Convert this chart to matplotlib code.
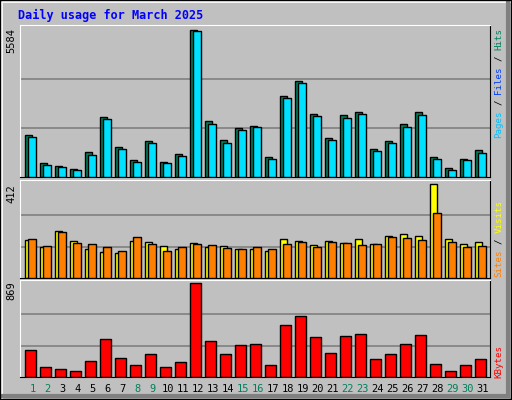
import matplotlib
matplotlib.use("Agg")
import matplotlib.pyplot as plt
from matplotlib.patches import Rectangle

days = list(range(1, 32))
hits = [1600,530,420,300,950,2280,1140,650,1370,570,870,5584,2130,1410,1860,1940,760,3080,3650,2390,1480,2360,2470,1060,1370,2010,2470,760,340,680,1030]
files = [1520,460,380,270,840,2200,1060,570,1290,530,800,5550,2010,1290,1790,1900,680,3000,3570,2320,1410,2240,2390,990,1290,1900,2360,680,270,650,910]
sites = [167,137,207,162,126,113,109,162,158,140,126,153,137,140,126,126,117,171,162,144,162,153,171,149,184,193,184,412,171,149,158]
visits = [171,140,202,153,149,135,117,180,149,117,135,149,144,131,126,135,126,149,158,135,158,153,144,149,180,175,167,283,158,135,140]
kbytes = [251,89,70,51,146,355,174,108,212,89,136,869,336,212,298,308,108,479,564,365,222,374,393,165,212,308,384,117,51,108,165]
weekend = [1,2,8,9,15,16,22,23,29,30]
title = "Daily usage for March 2025"

W, H = 512, 400
fig = plt.figure(figsize=(W/100, H/100), dpi=100)
fig.patch.set_facecolor("#C0C0C0")
bg = fig.add_axes([0, 0, 1, 1]); bg.set_xlim(0, W); bg.set_ylim(H, 0); bg.axis("off")
bg.add_patch(Rectangle((0, 0), W, H, fc="#C0C0C0", ec="none"))
bg.plot([1, W-3, W-3], [1, 1, 1], color="white", lw=2)
bg.plot([1, 1], [1, H-3], color="white", lw=2)
bg.plot([W-4, W-4], [3, H-4], color="#808080", lw=3)
bg.plot([3, W-4], [H-4, H-4], color="#808080", lw=3)
bg.plot([0, W-1, W-1, 0, 0], [0, 0, H-1, H-1, 0], color="black", lw=1)
mono = "DejaVu Sans Mono"
bg.text(18, 15, title, color="#0000FF", fontsize=8.5, fontweight="bold", family=mono, va="center")

def mkax(y0, y1):
    ax = fig.add_axes([20/W, 1-y1/H, 470/W, (y1-y0)/H])
    ax.set_facecolor("#C0C0C0")
    ax.set_xlim(0.167, 31.5)
    for s in ax.spines.values():
        s.set_color("black")
    ax.spines["left"].set_color("white"); ax.spines["top"].set_color("white")
    ax.set_xticks([]); ax.set_yticks([])
    return ax

def grid(ax, top):
    for f in (1/3, 2/3):
        ax.axhline(top*f, color="#808080", lw=1.2, zorder=0)

a1 = mkax(25, 177)
a1.set_ylim(0, 5584*1.035)
grid(a1, 5584)
a1.bar([d-0.5 for d in days], hits, width=0.5, align="edge", color="#00805C", ec="black", lw=1, zorder=2)
a1.bar([d-0.27 for d in days], files, width=0.5, align="edge", color="#00E0FF", ec="black", lw=1, zorder=3)

a2 = mkax(180, 278)
a2.set_ylim(0, 412*1.04)
grid(a2, 412)
a2.bar([d-0.5 for d in days], sites, width=0.5, align="edge", color="#FFFF00", ec="black", lw=1, zorder=2)
a2.bar([d-0.27 for d in days], visits, width=0.5, align="edge", color="#FF8000", ec="black", lw=1, zorder=3)

a3 = mkax(280, 377)
a3.set_ylim(0, 869*1.03)
grid(a3, 869)
a3.bar([d-0.47 for d in days], kbytes, width=0.7, align="edge", color="#FF0000", ec="black", lw=1, zorder=2)

for y, t in [(28, "5584"), (184, "412"), (281, "869")]:
    bg.text(11, y, t, rotation=90, family=mono, fontsize=7.5, ha="center", va="top", color="black")

for d in days:
    x = 20 + (d - 0.167) * 15
    bg.text(x, 389, str(d), family=mono, fontsize=7.5, ha="center", va="center",
            color="#00805C" if d in weekend else "black")

CH = 5.5
def side(parts, ybot):
    y = ybot
    for t, c in parts:
        n = len(t)
        bg.text(499, y - n*CH/2, t.strip(), rotation=90, family=mono, fontsize=6.6,
                ha="center", va="center", color=c)
        y -= n*CH

side([("Pages", "#00C0FF"), (" / ", "black"), ("Files", "#0040FF"), (" / ", "black"), ("Hits", "#00805C")], 138)
side([("Sites", "#FF8000"), (" / ", "black"), ("Visits", "#FFFF00")], 277)
side([("KBytes", "#FF0000")], 378)

fig.savefig("out.png", dpi=100, facecolor=fig.get_facecolor())
